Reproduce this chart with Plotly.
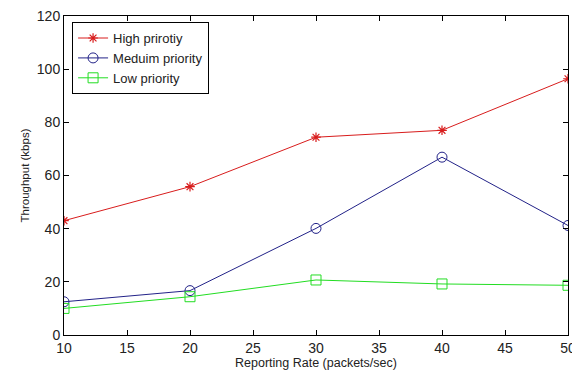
import plotly.graph_objects as go

rates = [10, 20, 30, 40, 50]
high = [43, 55.8, 74.4, 77, 96.4]
medium = [12.5, 16.7, 40.1, 66.9, 41.2]
low = [10, 14.4, 20.7, 19.2, 18.7]
x_ticks = [10, 15, 20, 25, 30, 35, 40, 45, 50]
y_ticks = [0, 20, 40, 60, 80, 100, 120]

fig = go.Figure()
fig.add_trace(go.Scatter(x=rates, y=high, name="High prirotiy", mode="lines+markers",
                         line=dict(color="#d81c1c", width=1),
                         marker=dict(symbol="asterisk", size=8, color="#d81c1c",
                                     line=dict(color="#d81c1c", width=1.2))))
fig.add_trace(go.Scatter(x=rates, y=medium, name="Meduim priority", mode="lines+markers",
                         line=dict(color="#222288", width=1),
                         marker=dict(symbol="circle-open", size=10, color="#222288",
                                     line=dict(color="#222288", width=1))))
fig.add_trace(go.Scatter(x=rates, y=low, name="Low priority", mode="lines+markers",
                         line=dict(color="#22dd22", width=1),
                         marker=dict(symbol="square-open", size=10, color="#22dd22",
                                     line=dict(color="#22dd22", width=1))))

axis_common = dict(showgrid=False, zeroline=False, showline=True, linecolor="black",
                   linewidth=1, mirror="ticks", ticks="inside", ticklen=5,
                   tickcolor="black", ticklabeloverflow="allow", automargin=False,
                   tickfont=dict(family="Liberation Sans", size=14, color="#222"))

fig.update_layout(
    width=572, height=370,
    margin=dict(l=64, r=4, t=16, b=35),
    paper_bgcolor="white", plot_bgcolor="white",
    showlegend=True,
    legend=dict(x=0.016, y=0.981, xanchor="left", yanchor="top",
                bordercolor="black", borderwidth=1, bgcolor="white",
                font=dict(family="Liberation Sans", size=13, color="#222"),
                tracegroupgap=0, itemsizing="trace"),
    xaxis=dict(range=[10, 50], tickvals=x_ticks,
               title=dict(text="Reporting Rate (packets/sec)", standoff=2,
                          font=dict(family="Liberation Sans", size=12.5, color="#222")),
               **axis_common),
    yaxis=dict(range=[0, 120], tickvals=y_ticks,
               title=dict(text="Throughput (kbps)", standoff=4,
                          font=dict(family="Liberation Sans", size=11.5, color="#222")),
               **axis_common),
)

fig.write_html("out.html", config={"displayModeBar": False},
               post_script="document.body.style.margin='0';document.body.style.overflow='hidden';")
